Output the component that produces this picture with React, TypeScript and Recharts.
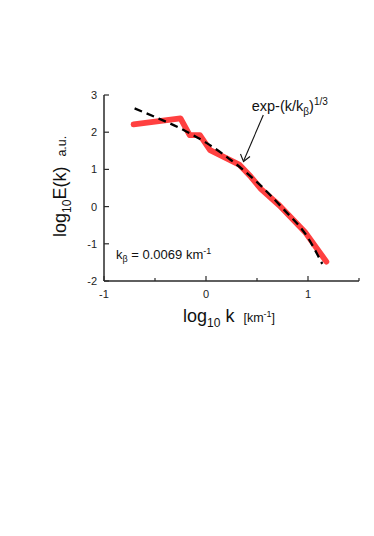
import React from "react";
import { LineChart, Line, XAxis, YAxis } from "recharts";

const spectrumX = [-0.71, -0.25, -0.16, -0.06, 0.01, 0.04, 0.33, 0.44, 0.54, 0.72, 0.97, 1.18];
const spectrumY = [2.21, 2.37, 1.92, 1.92, 1.64, 1.52, 1.12, 0.8, 0.47, 0.03, -0.68, -1.48];

const fitX = [-0.7, -0.5, -0.25, 0, 0.25, 0.5, 0.75, 1.0, 1.14];
const fitY = [2.64, 2.41, 2.1, 1.72, 1.24, 0.66, -0.04, -0.84, -1.54];

const xTicks = [-1, -0.5, 0, 0.5, 1, 1.5];
const yTicks = [-2, -1.5, -1, -0.5, 0, 0.5, 1, 1.5, 2, 2.5, 3];

const spectrum = spectrumX.map((x, i) => ({ x, y: spectrumY[i] }));
const fit = fitX.map((x, i) => ({ x, y: fitY[i] }));

const FONT = "'Liberation Sans', Arial, Helvetica, sans-serif";
const AXIS = "#2a2a2a";

const XTick = (props: any) => {
  const { x, y, payload } = props;
  const v = payload.value;
  const major = Number.isInteger(v);
  return (
    <g>
      <line x1={x} x2={x} y1={y} y2={y - (major ? 5 : 3)} stroke={AXIS} strokeWidth={1.2} />
      {major && (
        <text x={x} y={y + 17} textAnchor="middle" fontSize={11} fontFamily={FONT} fill="#222">
          {String(v)}
        </text>
      )}
    </g>
  );
};

const YTick = (props: any) => {
  const { x, y, payload } = props;
  const v = payload.value;
  const major = Number.isInteger(v);
  return (
    <g>
      <line x1={x} x2={x + (major ? 5 : 3)} y1={y} y2={y} stroke={AXIS} strokeWidth={1.2} />
      {major && (
        <text x={x - 7} y={y + 4} textAnchor="end" fontSize={11} fontFamily={FONT} fill="#222">
          {String(v)}
        </text>
      )}
    </g>
  );
};

export default function App() {
  return (
    <div style={{ position: "relative", width: 374, height: 536 }}>
      <LineChart
        width={374}
        height={536}
        margin={{ top: 87, right: 23, bottom: 233, left: 36 }}
      >
        <XAxis
          type="number"
          dataKey="x"
          domain={[-1, 1.5]}
          ticks={xTicks}
          allowDataOverflow
          tickSize={0}
          tickMargin={0}
          tickLine={false}
          tick={<XTick />}
          axisLine={{ stroke: AXIS, strokeWidth: 1.5 }}
          height={30}
        />
        <YAxis
          type="number"
          dataKey="y"
          domain={[-2, 3]}
          ticks={yTicks}
          allowDataOverflow
          tickSize={0}
          tickMargin={0}
          tickLine={false}
          tick={<YTick />}
          axisLine={{ stroke: AXIS, strokeWidth: 1.5 }}
          width={60}
        />
        <Line
          data={spectrum}
          dataKey="y"
          type="linear"
          stroke="#ff4040"
          strokeWidth={5.8}
          strokeLinejoin="round"
          strokeLinecap="round"
          dot={false}
          activeDot={false}
          isAnimationActive={false}
        />
        <Line
          data={fit}
          dataKey="y"
          type="monotone"
          stroke="#000"
          strokeWidth={2.3}
          strokeDasharray="8 5"
          dot={false}
          activeDot={false}
          isAnimationActive={false}
        />
      </LineChart>
      <svg
        width={374}
        height={536}
        style={{ position: "absolute", left: 0, top: 0, pointerEvents: "none" }}
      >
        <text x={243.7} y={102.7} fontSize={14.5} fontFamily={FONT} fill="#111">
          exp-(k/k
          <tspan fontSize={10} dy={4}>β</tspan>
          <tspan dy={-4}>)</tspan>
          <tspan fontSize={10} dy={-6}>1/3</tspan>
        </text>
        <line x1={255.3} y1={107} x2={235.8} y2={152.5} stroke="#111" strokeWidth={1.1} />
        <polyline points="232.5,146 235.5,153.5 242,148.5" fill="none" stroke="#111" strokeWidth={1.1} />
        <text x={108} y={250.5} fontSize={13} fontFamily={FONT} fill="#111">
          k
          <tspan fontSize={9} dy={3}>β</tspan>
          <tspan dy={-3}> = 0.0069 km</tspan>
          <tspan fontSize={9} dy={-5}>-1</tspan>
        </text>
        <text x={175} y={314} fontSize={18} fontFamily={FONT} fill="#111">
          log
          <tspan fontSize={12} dy={5}>10</tspan>
          <tspan dy={-5}> k</tspan>
          <tspan fontSize={12.5} dx={9}>[km</tspan>
          <tspan fontSize={9} dy={-5}>-1</tspan>
          <tspan fontSize={12.5} dy={5}>]</tspan>
        </text>
        <text
          x={58}
          y={229}
          fontSize={18}
          fontFamily={FONT}
          fill="#111"
          transform="rotate(-90, 58, 229)"
        >
          log
          <tspan fontSize={12} dy={5}>10</tspan>
          <tspan dy={-5}>E(k)</tspan>
          <tspan fontSize={12.5} dx={10}>a.u.</tspan>
        </text>
      </svg>
    </div>
  );
}
